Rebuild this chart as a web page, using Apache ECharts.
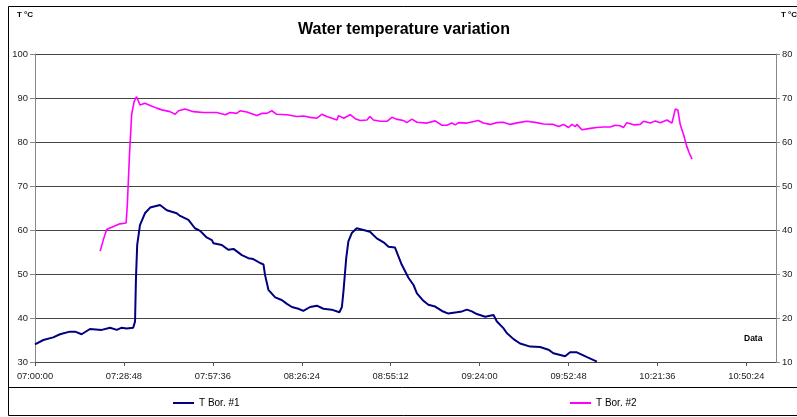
<!DOCTYPE html>
<html>
<head>
<meta charset="utf-8">
<title>Water temperature variation</title>
<script src="https://cdn.jsdelivr.net/npm/echarts@6.0.0/dist/echarts.min.js"></script>
<style>
  html, body { margin: 0; padding: 0; background: #fff; }
  #chart { width: 797px; height: 417px; }
</style>
</head>
<body>
<div id="chart"></div>
<script>
// minutes after 07:00:00
const bor1Time = [0, 2.7, 5.9, 8.1, 11.3, 13.0, 15.1, 17.8, 21.6, 24.3, 26.5, 28.1, 29.7, 31.8,
  32.4, 32.7, 33.1, 34.0, 35.6, 37.3, 40.5, 42.7, 45.9, 47.0, 49.7, 51.8, 53.5, 55.6, 57.3,
  57.8, 58.4, 60.5, 62.6, 64.3, 67.0, 69.1, 70.7, 72.9, 74.0, 74.5, 75.6, 77.8, 79.9, 81.6,
  83.2, 85.3, 86.9, 89.1, 91.3, 93.4, 96.1, 98.6, 99.4, 99.9, 100.8, 101.5, 102.6, 104.2,
  106.4, 108.5, 110.7, 112.9, 114.5, 116.6, 118.8, 121.0, 122.6, 123.7, 125.8, 127.4, 129.6,
  131.8, 133.9, 136.6, 138.3, 139.9, 141.5, 143.1, 145.8, 148.5, 149.6, 151.7, 152.8, 155.0,
  157.1, 160.4, 163.6, 166.3, 167.9, 171.7, 173.3, 175.5, 178.8, 182.0];
const bor1Temp = [34.0, 35.0, 35.6, 36.3, 36.9, 36.9, 36.3, 37.5, 37.3, 37.8, 37.3, 37.8, 37.6, 37.8,
  39.2, 49.0, 56.6, 61.1, 63.8, 65.1, 65.7, 64.5, 63.8, 63.2, 62.3, 60.4, 59.8, 58.3, 57.7,
  57.0, 57.4, 56.6, 55.5, 55.7, 54.3, 53.6, 53.4, 52.5, 52.2, 49.8, 46.4, 44.7, 44.1, 43.2,
  42.5, 42.1, 41.6, 42.5, 42.8, 42.1, 41.9, 41.3, 42.5, 46.0, 53.6, 57.4, 59.3, 60.4,
  60.0, 59.6, 58.1, 57.2, 56.2, 56.0, 52.1, 49.1, 47.5, 45.6, 43.9, 43.0, 42.6,
  41.6, 41.0, 41.3, 41.5, 41.9, 41.5, 40.9, 40.3, 40.7, 39.2, 37.7, 36.6, 35.2,
  34.2, 33.5, 33.4, 32.8, 32.0, 31.3, 32.2, 32.2, 31.1, 30.1];

const bor2Time = [21.1, 22.1, 23.2, 25.4, 27.5, 29.5, 29.9, 30.6, 31.3, 32.1, 32.9, 34.0, 35.6, 37.3,
  39.4, 41.1, 43.7, 45.4, 46.5, 48.6, 51.3, 54.5, 58.9, 61.6, 63.2, 65.3, 66.4, 68.6, 71.8,
  73.4, 75.1, 76.7, 78.3, 81.6, 84.8, 87.0, 89.1, 91.3, 92.9, 94.5, 97.8, 98.3, 100.0, 102.1,
  103.7, 105.3, 107.5, 108.5, 109.6, 111.8, 114.0, 115.6, 117.0, 119.3, 120.4, 122.1, 123.7,
  126.9, 129.6, 131.8, 133.4, 135.0, 136.1, 137.2, 139.9, 143.6, 145.2, 147.4, 149.6, 151.7,
  153.9, 156.6, 159.3, 162.5, 164.7, 167.9, 169.6, 171.2, 172.8, 173.9, 175.0, 175.5, 177.1,
  179.8, 182.0, 184.1, 186.3, 187.9, 189.5, 190.6, 191.7, 193.9, 196.0, 197.1, 199.3, 200.9,
  202.5, 204.7, 206.3, 207.4, 208.2, 209.0, 210.1, 211.1, 211.9, 212.8];
const bor2Temp = [35.2, 37.7, 40.1, 40.8, 41.4, 41.6, 45.7, 57.1, 66.2, 69.2, 70.3, 68.4, 68.8, 68.3,
  67.7, 67.3, 66.9, 66.3, 67.1, 67.5, 66.9, 66.7, 66.7, 66.2, 66.7, 66.5, 67.1, 66.8, 66.0,
  66.5, 66.5, 67.1, 66.3, 66.2, 65.8, 65.9, 65.6, 65.4, 66.3, 65.8, 65.0, 66.0, 65.4, 66.2,
  65.3, 64.9, 65.0, 65.8, 65.0, 64.7, 64.7, 65.6, 65.2, 64.9, 64.4, 65.2, 64.5,
  64.3, 64.8, 63.8, 63.8, 64.3, 63.9, 64.4, 64.3, 64.9, 64.3, 64.0, 64.4, 64.5,
  64.0, 64.4, 64.7, 64.4, 64.1, 64.0, 63.5, 64.0, 63.3, 64.0, 63.5, 64.0, 62.8,
  63.1, 63.3, 63.4, 63.4, 63.8, 63.7, 63.3, 64.4, 63.9, 64.0, 64.7, 64.3, 64.8,
  64.4, 65.0, 64.3, 67.5, 67.3, 63.9, 61.6, 59.0, 57.5, 56.1];

const leftTicks = [30, 100, 10];   // min, max, step
const rightTicks = [10, 80, 10];
const timeStep = 28.8;             // 0:28:48
const timeMax = 240;

function pairs(xs, ys) {
  return xs.map((x, i) => [x, ys[i]]);
}

function clock(min) {
  const s = Math.round(min * 60) + 7 * 3600;
  const p = n => String(n).padStart(2, '0');
  return p(Math.floor(s / 3600)) + ':' + p(Math.floor(s / 60) % 60) + ':' + p(s % 60);
}

const chart = echarts.init(document.getElementById('chart'));
const font = 'Liberation Sans, Arial, sans-serif';

const options = {
  animation: false,
  backgroundColor: '#fff',
  title: {
    text: 'Water temperature variation',
    left: 293,
    top: 17,
    textStyle: { fontFamily: font, fontSize: 16, fontWeight: 'bold', color: '#000' }
  },
  legend: [
    {
      data: ['T Bor. #1'],
      left: 168, top: 393,
      icon: 'rect', itemWidth: 21, itemHeight: 2,
      textStyle: { fontFamily: font, fontSize: 10, color: '#000' }
    },
    {
      data: ['T Bor. #2'],
      left: 565, top: 393,
      icon: 'rect', itemWidth: 21, itemHeight: 2,
      textStyle: { fontFamily: font, fontSize: 10, color: '#000' }
    }
  ],
  grid: { left: 35, right: 21, top: 54, bottom: 55 },
  xAxis: {
    type: 'value',
    min: 0,
    max: timeMax,
    interval: timeStep,
    axisLine: { lineStyle: { color: '#444', width: 1 } },
    axisTick: { inside: false, length: 4, lineStyle: { color: '#555' } },
    axisLabel: {
      showMaxLabel: false,
      margin: 10,
      fontFamily: font, fontSize: 9.3, color: '#222',
      formatter: v => clock(v)
    },
    splitLine: { show: false }
  },
  yAxis: [
    {
      type: 'value',
      min: leftTicks[0], max: leftTicks[1], interval: leftTicks[2],
      axisLine: { show: true, lineStyle: { color: '#888' } },
      axisTick: { show: true, length: 5, lineStyle: { color: '#888' } },
      axisLabel: { margin: 7, fontFamily: font, fontSize: 9.4, color: '#222' },
      splitLine: { lineStyle: { color: '#444', width: 1.2 } }
    },
    {
      type: 'value',
      position: 'right',
      min: rightTicks[0], max: rightTicks[1], interval: rightTicks[2],
      axisLine: { show: true, lineStyle: { color: '#888' } },
      axisTick: { show: true, length: 4, lineStyle: { color: '#888' } },
      axisLabel: { margin: 6, fontFamily: font, fontSize: 9.4, color: '#222' },
      splitLine: { show: false }
    }
  ],
  series: [
    {
      name: 'T Bor. #1',
      type: 'line',
      yAxisIndex: 0,
      data: pairs(bor1Time, bor1Temp),
      showSymbol: false,
      color: '#000080',
      lineStyle: { color: '#000080', width: 2 }
    },
    {
      name: 'T Bor. #2',
      type: 'line',
      yAxisIndex: 1,
      data: pairs(bor2Time, bor2Temp),
      showSymbol: false,
      color: '#ff00ff',
      lineStyle: { color: '#ff00ff', width: 1.6 }
    }
  ],
  graphic: [
    { type: 'rect', shape: { x: 8.5, y: 6.5, width: 800, height: 409 },
      style: { fill: null, stroke: '#000', lineWidth: 1 }, silent: true },
    { type: 'line', shape: { x1: 8, y1: 387.5, x2: 797, y2: 387.5 },
      style: { stroke: '#000', lineWidth: 1 }, silent: true },
    { type: 'text', left: 17, top: 11,
      style: { text: 'T °C', font: 'bold 8px ' + font, fill: '#000' } },
    { type: 'text', left: 781, top: 11,
      style: { text: 'T °C', font: 'bold 8px ' + font, fill: '#000' } },
    { type: 'text', left: 744, top: 334,
      style: { text: 'Data', font: 'bold 8.5px ' + font, fill: '#000' } }
  ]
};

chart.setOption(options);
</script>
</body>
</html>
